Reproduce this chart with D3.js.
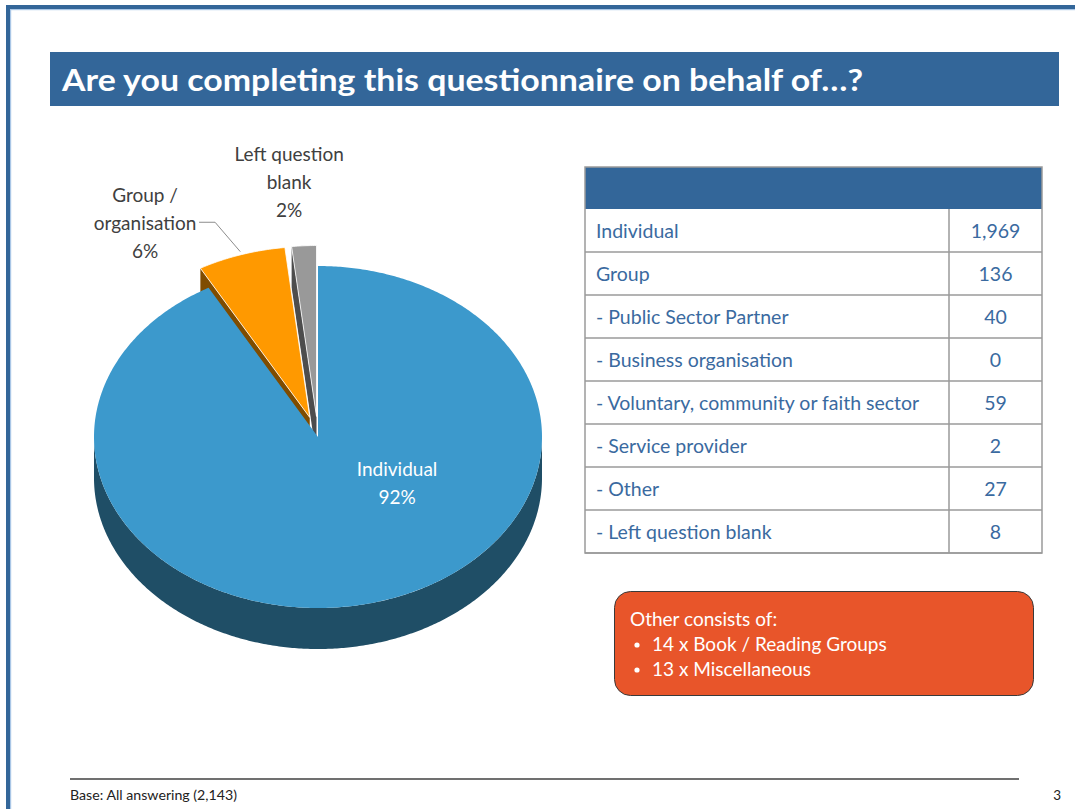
<!DOCTYPE html>
<html>
<head>
<meta charset="utf-8">
<script src="https://cdn.jsdelivr.net/npm/d3@7"></script>
<style>
  html, body { margin: 0; padding: 0; background: #fff; }
  svg { display: block; }
  text { font-family: Lato, "Open Sans", "Noto Sans", sans-serif; }
</style>
</head>
<body>
<svg id="chart" width="1075" height="809"></svg>
<script>
// ---- data ----
const pieCategories = ["Individual", "Group / organisation", "Left question blank"];
const pieValues = [1969, 136, 38];
const pieColors = ["#3C99CC", "#FF9900", "#999999"];
const pieSideColors = ["#1F4E66", "#7F4C00", "#4D4D4D"];
const pieExploded = [false, true, true];

const tableLabels = ["Individual", "Group", "- Public Sector Partner", "- Business organisation",
  "- Voluntary, community or faith sector", "- Service provider", "- Other", "- Left question blank"];
const tableValues = [1969, 136, 40, 0, 59, 2, 27, 8];

const otherLines = ["14 x Book / Reading Groups", "13 x Miscellaneous"];

const titleText = "Are you completing this questionnaire on behalf of\u2026?";
const footerText = "Base: All answering (2,143)";
const pageNumber = "3";

// ---- page ----
const svg = d3.select("#chart");
const blue = "#336699";

// frame
svg.append("rect").attr("x", 6).attr("y", 5).attr("width", 1069).attr("height", 4).attr("fill", blue);
svg.append("rect").attr("x", 6).attr("y", 5).attr("width", 4).attr("height", 804).attr("fill", blue);
svg.append("rect").attr("x", 10).attr("y", 9).attr("width", 1065).attr("height", 1.2).attr("fill", "#A9C6E6");
svg.append("rect").attr("x", 10).attr("y", 9).attr("width", 1.2).attr("height", 800).attr("fill", "#A9C6E6");

// title
svg.append("rect").attr("x", 50).attr("y", 52).attr("width", 1009).attr("height", 54).attr("fill", blue);
svg.append("text").attr("x", 62).attr("y", 91)
  .attr("fill", "#fff").attr("font-weight", "bold").attr("font-size", 30)
  .attr("textLength", 801).attr("lengthAdjust", "spacingAndGlyphs")
  .text(titleText);

// ---- 3D pie ----
const cx = 318, cy = 437, rx = 224, ry = 171, depth = 41, explode = 0.12;
const xS = d3.scaleLinear().domain([-1, 1]).range([cx - rx, cx + rx]);
const yS = d3.scaleLinear().domain([-1, 1]).range([cy + ry, cy - ry]);

const arcs = d3.pie().sort(null).startAngle(0).endAngle(2 * Math.PI)(pieValues);
arcs.forEach((a, i) => {
  const mid = (a.startAngle + a.endAngle) / 2;
  a.mid = mid;
  a.ox = pieExploded[i] ? explode * Math.sin(mid) : 0;
  a.oy = pieExploded[i] ? explode * Math.cos(mid) : 0;
});
function P(a, ang, r, dz) {
  return [xS(r * Math.sin(ang) + a.ox), yS(r * Math.cos(ang) + a.oy) + (dz || 0)];
}
function arcPts(a, a0, a1, dz) {
  const n = Math.max(2, Math.ceil(Math.abs(a1 - a0) / 0.01));
  const pts = [];
  for (let k = 0; k <= n; k++) pts.push(P(a, a0 + (a1 - a0) * k / n, 1, dz));
  return pts;
}
const line = d3.line();
const gPie = svg.append("g");

function drawSlice(i) {
  const a = arcs[i];
  const g = gPie.append("g");
  if (Math.sin(a.startAngle) < -1e-6) {
    const c0 = P(a, 0, 0, 0), e0 = P(a, a.startAngle, 1, 0);
    const pts = [c0, e0, [e0[0], e0[1] + depth], [c0[0], c0[1] + depth]];
    g.append("path").attr("d", line(pts) + "Z").attr("fill", pieSideColors[i]);
  }
  if (Math.sin(a.endAngle) > 1e-6) {
    const c0 = P(a, 0, 0, 0), e1 = P(a, a.endAngle, 1, 0);
    const pts = [c0, e1, [e1[0], e1[1] + depth], [c0[0], c0[1] + depth]];
    g.append("path").attr("d", line(pts) + "Z").attr("fill", pieSideColors[i]);
  }
  const s0 = Math.max(a.startAngle, Math.PI / 2), s1 = Math.min(a.endAngle, 3 * Math.PI / 2);
  if (s1 > s0) {
    const top = arcPts(a, s0, s1, 0);
    const bot = arcPts(a, s1, s0, depth);
    g.append("path").attr("d", line(top.concat(bot)) + "Z").attr("fill", pieSideColors[i]);
  }
  const tpts = [P(a, 0, 0, 0)].concat(arcPts(a, a.startAngle, a.endAngle, 0));
  g.append("path").attr("d", line(tpts) + "Z").attr("fill", pieColors[i])
    .attr("stroke", pieExploded[i] ? "#fff" : "none").attr("stroke-width", pieExploded[i] ? 0.8 : 0);
}
drawSlice(2);
drawSlice(1);
drawSlice(0);

// labels
const pct = d3.format(".0%");
const total = d3.sum(pieValues);
const labelSize = 19;
const indG = svg.append("g").attr("fill", "#fff").attr("font-size", labelSize).attr("text-anchor", "middle");
indG.append("text").attr("x", xS(0.353)).attr("y", yS(-0.27) - 7).text(pieCategories[0]);
indG.append("text").attr("x", xS(0.353)).attr("y", yS(-0.27) + 21).text(pct(pieValues[0] / total));

const grpG = svg.append("g").attr("fill", "#404040").attr("font-size", labelSize).attr("text-anchor", "middle");
const gx = xS(-0.772), gy = yS(1.25);
grpG.append("text").attr("x", gx).attr("y", gy - 21).text("Group /");
grpG.append("text").attr("x", gx).attr("y", gy + 7).text("organisation");
grpG.append("text").attr("x", gx).attr("y", gy + 35).text(pct(pieValues[1] / total));
const anchorPt = P(arcs[1], arcs[1].mid, 1, 0);
svg.append("path")
  .attr("d", line([[gx + 54, gy - 1], [gx + 70, gy - 1], [anchorPt[0] - 1, anchorPt[1] - 3]]))
  .attr("fill", "none").attr("stroke", "#8C8C8C").attr("stroke-width", 1);

const lbG = svg.append("g").attr("fill", "#404040").attr("font-size", labelSize).attr("text-anchor", "middle");
const lx = xS(-0.129), ly = yS(1.485);
lbG.append("text").attr("x", lx).attr("y", ly - 22).text("Left question");
lbG.append("text").attr("x", lx).attr("y", ly + 6).text("blank");
lbG.append("text").attr("x", lx).attr("y", ly + 34).text(pct(pieValues[2] / total));

// ---- table ----
const tX0 = 585, tX1 = 949, tX2 = 1042, headTop = 167, headBot = 209;
const rowY = d3.scaleBand().domain(d3.range(tableLabels.length)).range([headBot, 553]).paddingInner(0).paddingOuter(0);
const tG = svg.append("g");
tG.append("rect").attr("x", tX0).attr("y", headTop).attr("width", tX2 - tX0).attr("height", headBot - headTop).attr("fill", blue);
const fmt = d3.format(",");
const textBlue = "#3A6AA0";
const tableSize = 19.5;
tableLabels.forEach((lab, i) => {
  const y0 = rowY(i), h = rowY.bandwidth();
  tG.append("text").attr("x", tX0 + 11).attr("y", y0 + h / 2 + 7.5)
    .attr("fill", textBlue).attr("font-size", tableSize).text(lab);
  tG.append("text").attr("x", (tX1 + tX2) / 2).attr("y", y0 + h / 2 + 7.5)
    .attr("fill", textBlue).attr("font-size", tableSize).attr("text-anchor", "middle").text(fmt(tableValues[i]));
  tG.append("line").attr("x1", tX0).attr("x2", tX2).attr("y1", y0 + h).attr("y2", y0 + h)
    .attr("stroke", "#9A9A9A").attr("stroke-width", 1.5);
});
tG.append("line").attr("x1", tX1).attr("x2", tX1).attr("y1", headBot).attr("y2", 553).attr("stroke", "#9A9A9A").attr("stroke-width", 1.5);
tG.append("rect").attr("x", tX0).attr("y", headTop).attr("width", tX2 - tX0).attr("height", 553 - headTop)
  .attr("fill", "none").attr("stroke", "#9A9A9A").attr("stroke-width", 1.5);

// ---- callout ----
const cG = svg.append("g");
cG.append("rect").attr("x", 614.5).attr("y", 591.5).attr("width", 419).attr("height", 104).attr("rx", 16).attr("ry", 16)
  .attr("fill", "#E8552A").attr("stroke", "#3A3A3A").attr("stroke-width", 1);
cG.append("text").attr("x", 630).attr("y", 626).attr("fill", "#fff").attr("font-size", 19).text("Other consists of:");
otherLines.forEach((t, i) => {
  const y = 651 + i * 25;
  cG.append("circle").attr("cx", 637).attr("cy", y - 6).attr("r", 2.6).attr("fill", "#fff");
  cG.append("text").attr("x", 652).attr("y", y).attr("fill", "#fff").attr("font-size", 19).text(t);
});

// ---- footer ----
svg.append("line").attr("x1", 70).attr("x2", 1019).attr("y1", 779).attr("y2", 779).attr("stroke", "#404040").attr("stroke-width", 1.5);
svg.append("text").attr("x", 70).attr("y", 800).attr("font-size", 13.5).attr("fill", "#222")
  .attr("textLength", 167).attr("lengthAdjust", "spacingAndGlyphs").text(footerText);
svg.append("text").attr("x", 1061).attr("y", 800).attr("font-size", 13.5).attr("fill", "#222").attr("text-anchor", "end").text(pageNumber);
</script>
</body>
</html>
